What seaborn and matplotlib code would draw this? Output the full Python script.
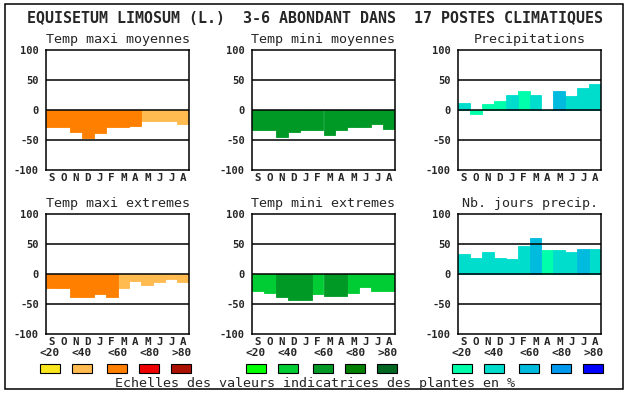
import matplotlib
matplotlib.use("Agg")
import matplotlib.pyplot as plt
from matplotlib.patches import Rectangle
import seaborn as sns
import pandas as pd

# === donnees ===
months = ["S", "O", "N", "D", "J", "F", "M", "A", "M", "J", "J", "A"]
yticks = [100, 50, 0, -50, -100]
legend_labels = ["<20", "<40", "<60", "<80", ">80"]

tmax_moy = [-28, -28, -36, -46, -38, -28, -28, -26, -18, -18, -18, -23]
tmax_moy_cls = [2, 2, 2, 2, 2, 2, 2, 2, 1, 1, 1, 1]

tmin_moy = [-34, -33, -45, -36, -34, -34, -41, -34, -28, -28, -24, -31]
tmin_moy_cls = [2, 2, 2, 2, 2, 2, 2, 2, 2, 2, 2, 2]

precip = [11, -6, 10, 15, 25, 32, 25, 0, 32, 24, 36, 44]
precip_cls = [1, 0, 0, 0, 1, 0, 1, 1, 2, 1, 1, 1]

tmax_ext = [-24, -24, -38, -38, -33, -38, -23, -11, -18, -13, -8, -14]
tmax_ext_cls = [2, 2, 2, 2, 2, 2, 1, 1, 1, 1, 1, 1]

tmin_ext = [-28, -31, -38, -43, -44, -34, -36, -36, -31, -21, -28, -28]
tmin_ext_cls = [1, 1, 2, 2, 2, 1, 2, 2, 1, 1, 1, 1]

jours_precip = [34, 27, 36, 27, 25, 47, 60, 40, 40, 36, 42, 42]
jours_precip_cls = [1, 1, 1, 1, 1, 1, 2, 0, 1, 1, 2, 1]

temp_colors = ["#FAE61C", "#FFBA50", "#FF8000", "#EE0000", "#AA1100"]
green_colors = ["#00FF00", "#00CC33", "#009926", "#007F00", "#006622"]
water_colors = ["#00FFAA", "#00DDCC", "#00BBDD", "#0099EE", "#0000FF"]

title = "EQUISETUM LIMOSUM (L.)  3-6 ABONDANT DANS  17 POSTES CLIMATIQUES"
footer = "Echelles des valeurs indicatrices des plantes en %"

W, H = 630, 394
sns.set_style("white")
plt.rcParams["font.family"] = ["DejaVu Sans Mono"]

fig = plt.figure(figsize=(W / 100, H / 100), dpi=100)


def px_rect(x0, y0, x1, y1):
    # pixel box (origine en haut a gauche) -> fraction de figure
    return [x0 / W, 1 - y1 / H, (x1 - x0) / W, (y1 - y0) / H]


def fx(x):
    return x / W


def fy(y):
    return 1 - y / H


# cadre exterieur
fig.patches.append(Rectangle((fx(5), fy(389)), fx(623) - fx(5), fy(4) - fy(389),
                             transform=fig.transFigure, fill=False,
                             edgecolor="black", linewidth=1.1))

fig.text(fx(315), fy(23), title, ha="center", va="baseline",
         fontsize=10.8, fontweight="bold")
fig.text(fx(315), fy(387), footer, ha="center", va="baseline", fontsize=9.6)

cols_x = [45.7, 251.7, 457.7]
ax_w = 143.6
rows_y = [(50, 170), (214, 334)]

panels = [
    ("Temp maxi moyennes", tmax_moy, tmax_moy_cls, temp_colors, 0, 0),
    ("Temp mini moyennes", tmin_moy, tmin_moy_cls, green_colors, 0, 1),
    ("Precipitations", precip, precip_cls, water_colors, 0, 2),
    ("Temp maxi extremes", tmax_ext, tmax_ext_cls, temp_colors, 1, 0),
    ("Temp mini extremes", tmin_ext, tmin_ext_cls, green_colors, 1, 1),
    ("Nb. jours precip.", jours_precip, jours_precip_cls, water_colors, 1, 2),
]

for name, vals, cls, colors, r, c in panels:
    x0 = cols_x[c]
    y0, y1 = rows_y[r]
    ax = fig.add_axes(px_rect(x0, y0, x0 + ax_w, y1))
    df = pd.DataFrame({"pos": list(range(12)), "val": vals, "cls": cls})
    pal = {i: colors[i] for i in range(5)}
    sns.barplot(data=df, x="pos", y="val", hue="cls", palette=pal,
                order=list(range(12)), hue_order=list(range(5)),
                dodge=False, width=1.0, linewidth=0, saturation=1,
                legend=False, ax=ax, zorder=1)
    # pas de liseres blancs entre les barres
    for p in ax.patches:
        p.set_edgecolor(p.get_facecolor())
        p.set_linewidth(0.6)
    ax.set_xlim(-0.5, 11.5)
    ax.set_ylim(-100, 100)
    for yv in [50, 0, -50]:
        ax.axhline(yv, color="black", linewidth=1.1, zorder=3)
    ax.set_yticks(yticks)
    ax.set_yticklabels([str(v) for v in yticks], fontsize=7.5, fontweight="bold")
    ax.set_xticks(range(12))
    ax.set_xticklabels(months, fontsize=7.8, fontweight="bold")
    ax.tick_params(length=0, pad=2)
    ax.tick_params(axis="y", pad=5)
    ax.set_xlabel("")
    ax.set_ylabel("")
    for sp in ax.spines.values():
        sp.set_visible(True)
        sp.set_color("black")
        sp.set_linewidth(1.1)
        sp.set_zorder(4)
    ax.grid(False)

    # titre du panneau
    fig.text(fx(x0 + ax_w / 2), fy(y0 - 7), name, ha="center", va="baseline",
             fontsize=9.6)

    # legende des classes sous la colonne du bas
    if r == 1:
        offsets = [-6, 26, 61.5, 93.5, 125.5]
        for k, off in enumerate(offsets):
            bx = x0 + off
            fig.patches.append(Rectangle((fx(bx), fy(373)), fx(20), fy(364) - fy(373),
                                         transform=fig.transFigure,
                                         facecolor=colors[k], edgecolor="black",
                                         linewidth=0.8))
            fig.text(fx(bx + 10), fy(353.5), legend_labels[k], ha="center",
                     va="center", fontsize=8, fontweight="bold")

fig.savefig("out.png", dpi=100)
